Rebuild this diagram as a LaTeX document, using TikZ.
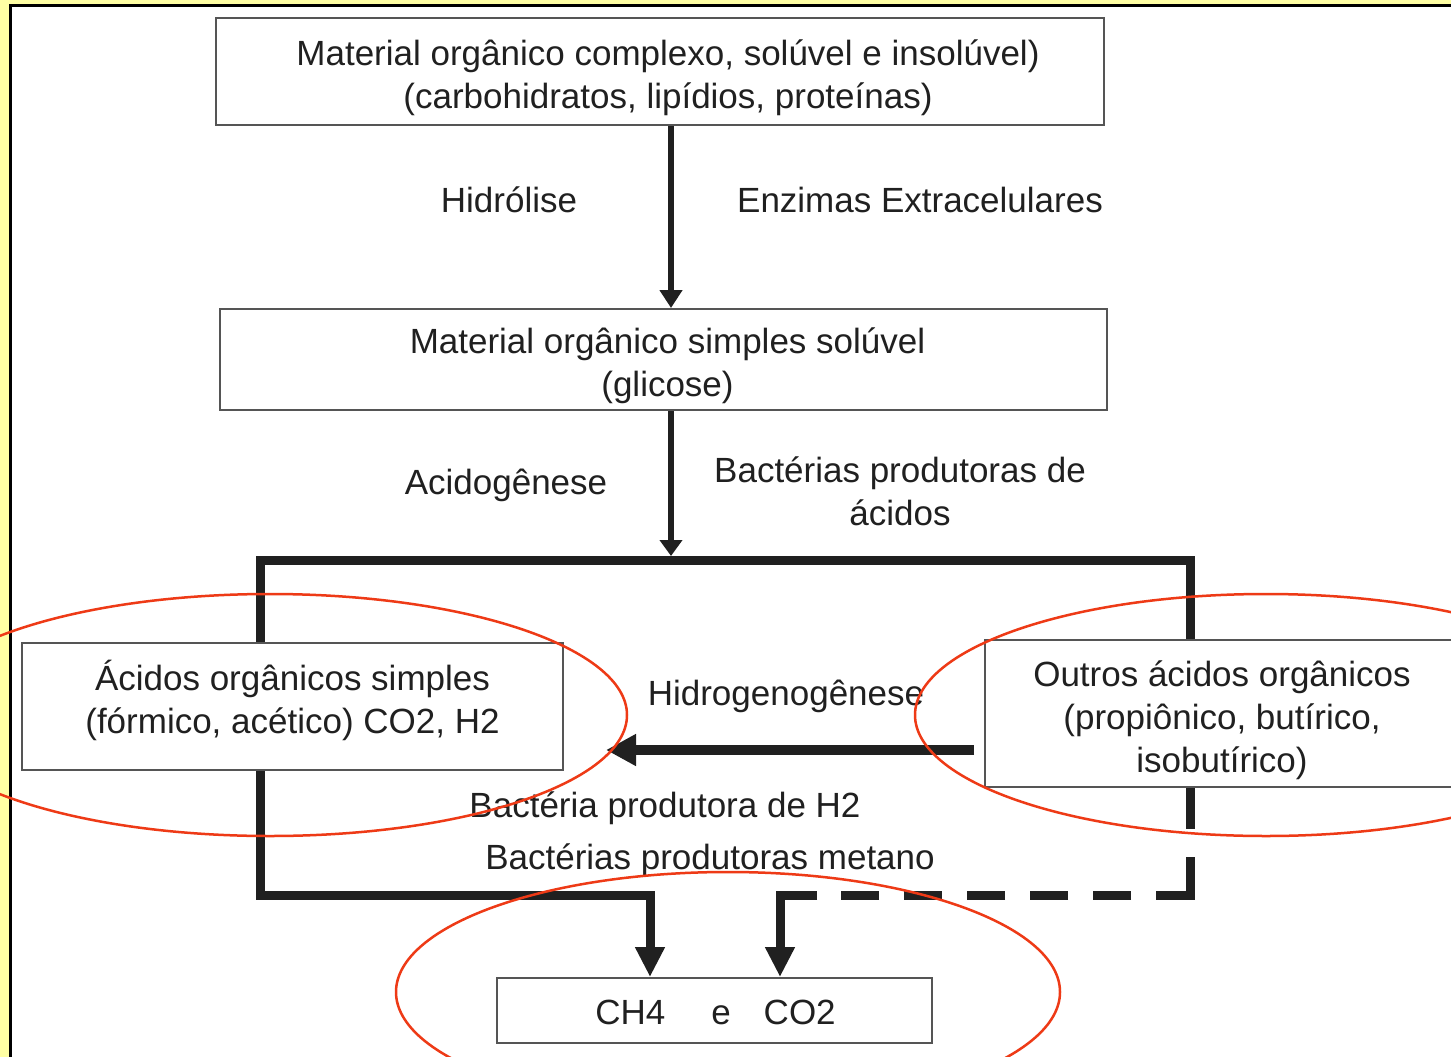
\documentclass[tikz,border=0pt]{standalone}
\usepackage{fontspec}
\setmainfont{Liberation Sans}
\usetikzlibrary{arrows.meta,calc}
\definecolor{bgyellow}{RGB}{255,255,164}
\definecolor{ovalred}{RGB}{238,58,22}
\definecolor{boxgray}{RGB}{85,85,85}
\definecolor{inkc}{RGB}{32,32,32}
\begin{document}
\begin{tikzpicture}[x=1pt,y=-1pt,
  every node/.style={font=\fontsize{35}{43}\selectfont, text=inkc},
  procbox/.style={draw=boxgray, line width=2pt, fill=white, inner sep=0pt, align=center},
  lbl/.style={inner sep=0pt, align=center},
  flow/.style={line width=9pt, draw=inkc, line join=miter},
  thinflow/.style={line width=6pt, draw=inkc},
  oval/.style={draw=ovalred, line width=2.5pt}]
\useasboundingbox (0,0) rectangle (1451,1057);
\clip (0,0) rectangle (1451,1057);
\fill[bgyellow] (0,0) rectangle (1451,1057);
\draw[line width=3pt, fill=white] (10.5,6) rectangle (1480,1090);

% boxes
\node[procbox, minimum width=888pt, minimum height=107pt] (box1) at (660,71.5) {};
\node[lbl] (box1t) at ($(box1.center)+(8,6)$)
  {Material orgânico complexo, solúvel e insolúvel)\\(carbohidratos, lipídios, proteínas)};
\node[procbox, minimum width=887pt, minimum height=101pt] (box2) at (663.5,359.5) {};
\node[lbl] (box2t) at ($(box2.center)+(4,6)$)
  {Material orgânico simples solúvel\\(glicose)};
\node[procbox, minimum width=541pt, minimum height=127pt] (box3) at (292.5,706.5) {};
\node[lbl] (box3t) at ($(box3.center)+(0,-6)$)
  {Ácidos orgânicos simples\\(fórmico, acético) CO2, H2};
\node[procbox, minimum width=474pt, minimum height=147pt] (box4) at (1222,713.5) {};
\node[lbl] (box4t) at ($(box4.center)+(0,7)$)
  {Outros ácidos orgânicos\\(propiônico, butírico,\\isobutírico)};
\node[procbox, minimum width=435pt, minimum height=65pt] (box5) at (714.5,1010.5) {};
\node[lbl] (box5t) at ($(box5.center)+(1,2)$)
  {CH4\hspace{46pt}e\hspace{33pt}CO2};

% labels
\node[lbl] (lhidrol) at (509,200) {Hidrólise};
\node[lbl] (lenz) at (920,200) {Enzimas Extracelulares};
\node[lbl] (lacido) at (506,485) {Acidogênese};
\node[lbl] (lbact) at (900,491) {Bactérias produtoras de\\ácidos};
\node[lbl] (lhidrog) at (786,696) {Hidrogenogênese};
\node[lbl] (lh2) at (665,808) {Bactéria produtora de H2};
\node[lbl] (lmet) at (710,860) {Bactérias produtoras metano};

% coordinates
\coordinate (xa) at (671,0);
\coordinate (bl) at (260,560);
\coordinate (br) at (1190,560);
\coordinate (hy) at (0,750);
\coordinate (jl) at (650,895);
\coordinate (jr) at (780,895);
\coordinate (cr) at (1190,895);

% connectors
\draw[thinflow, -{Triangle[length=18pt,width=22pt]}] (box1.south -| xa) -- (box2.north -| xa);
\draw[thinflow, -{Triangle[length=16pt,width=22pt]}, shorten >=4pt] (box2.south -| xa) -- (xa |- bl);
\draw[flow] (box3.north -| bl) -- (bl) -- (br) -- (box4.north -| br);
\draw[flow, line width=10pt, -{Triangle[length=30pt,width=30pt]}, shorten <=10pt, shorten >=42pt]
  (box4.west |- hy) -- (box3.east |- hy);
\draw[flow, -{Triangle[length=30pt,width=28pt]}] (box3.south -| bl) -- (bl |- jl) -- (jl) -- (box5.north -| jl);
% dashed route
\draw[flow] (box4.south -| cr) -- ++(0,41);
\draw[flow] ($(cr)+(0,-38)$) -- (cr) -- ($(cr)+(-34,0)$);
\draw[flow, dash pattern=on 38pt off 25pt] ($(cr)+(-59,0)$) -- ($(jr)+(37,0)$);
\draw[flow, -{Triangle[length=30pt,width=28pt]}] ($(jr)+(37,0)$) -- (jr) -- (box5.north -| jr);

% ovals
\draw[oval] (270,715) ellipse [x radius=357pt, y radius=121pt];
\draw[oval] (1266,715) ellipse [x radius=351pt, y radius=121pt];
\draw[oval] (728,992) ellipse [x radius=332pt, y radius=120pt];
\end{tikzpicture}
\end{document}
